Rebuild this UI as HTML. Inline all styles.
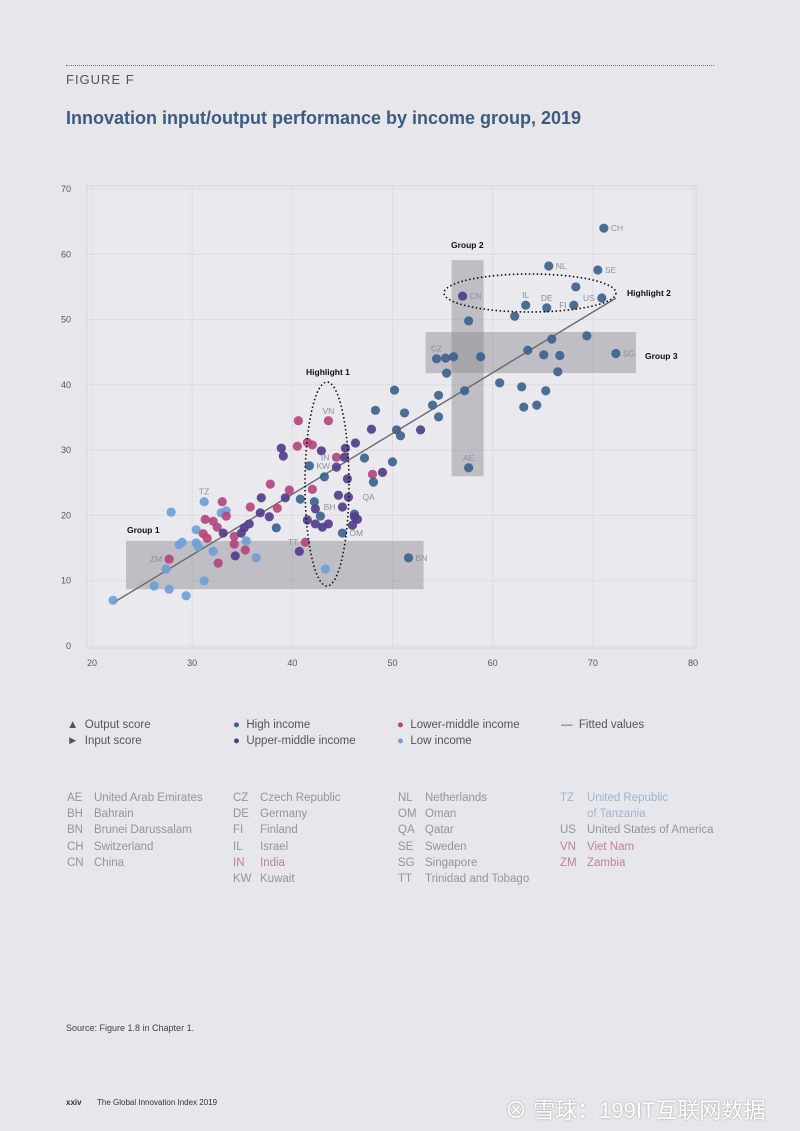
<!DOCTYPE html>
<html><head><meta charset="utf-8"><style>
body{margin:0;background:#e7e7eb;font-family:"Liberation Sans",sans-serif;}
#page{position:relative;width:800px;height:1131px;overflow:hidden;background:#e7e7eb;}
.t{position:absolute;white-space:nowrap;}
.leg{font-size:11.5px;color:#555;}
.cl{font-size:11.5px;color:#9095a0;line-height:16.2px;}
.cl span.c{display:inline-block;width:27px;}
</style></head><body>
<div id="page">
<div class="t" style="left:66px;top:65px;width:648px;border-top:1.5px dotted #777;"></div>
<div class="t" style="left:66px;top:72px;font-size:13px;letter-spacing:1px;color:#555;">FIGURE F</div>
<div class="t" style="left:66px;top:108px;font-size:18px;font-weight:bold;color:#3d5a80;">Innovation input/output performance by income group, 2019</div>

<svg id="chart" width="800" height="680" style="position:absolute;left:0;top:0;" font-family="Liberation Sans, sans-serif"></svg>

<div class="t leg" style="left:67px;top:719px;">▲&nbsp; Output score</div>
<div class="t leg" style="left:67px;top:735px;">►&nbsp; Input score</div>
<div class="t leg" style="left:233px;top:719px;"><span style="color:#3e628c">●</span>&nbsp; High income</div>
<div class="t leg" style="left:233px;top:735px;"><span style="color:#533d8c">●</span>&nbsp; Upper-middle income</div>
<div class="t leg" style="left:397px;top:719px;"><span style="color:#b5457d">●</span>&nbsp; Lower-middle income</div>
<div class="t leg" style="left:397px;top:735px;"><span style="color:#6fa0d6">●</span>&nbsp; Low income</div>
<div class="t leg" style="left:561px;top:719px;">—&nbsp; Fitted values</div>

<div class="t cl" style="left:67px;top:790px;">
<div><span class="c">AE</span>United Arab Emirates</div><div><span class="c">BH</span>Bahrain</div><div><span class="c">BN</span>Brunei Darussalam</div><div><span class="c">CH</span>Switzerland</div><div><span class="c">CN</span>China</div></div>
<div class="t cl" style="left:233px;top:790px;">
<div><span class="c">CZ</span>Czech Republic</div><div><span class="c">DE</span>Germany</div><div><span class="c">FI</span>Finland</div><div><span class="c">IL</span>Israel</div><div style="color:#c07fa0"><span class="c">IN</span>India</div><div><span class="c">KW</span>Kuwait</div></div>
<div class="t cl" style="left:398px;top:790px;">
<div><span class="c">NL</span>Netherlands</div><div><span class="c">OM</span>Oman</div><div><span class="c">QA</span>Qatar</div><div><span class="c">SE</span>Sweden</div><div><span class="c">SG</span>Singapore</div><div><span class="c">TT</span>Trinidad and Tobago</div></div>
<div class="t cl" style="left:560px;top:790px;">
<div style="color:#a0b4d0"><span class="c">TZ</span>United Republic</div><div style="color:#a0b4d0"><span class="c"></span>of Tanzania</div><div><span class="c">US</span>United States of America</div><div style="color:#c07fa0"><span class="c">VN</span>Viet Nam</div><div style="color:#c07fa0"><span class="c">ZM</span>Zambia</div></div>

<div class="t" style="left:66px;top:1023px;font-size:9px;color:#444;">Source: Figure 1.8 in Chapter 1.</div>
<div class="t" style="left:66px;top:1098px;font-size:8px;font-weight:bold;color:#333;">xxiv</div>
<div class="t" style="left:97px;top:1098px;font-size:8px;color:#333;">The Global Innovation Index 2019</div>
<div class="t" style="left:505px;top:1093px;font-size:22px;color:#fff;font-family:'Liberation Sans','Noto Sans CJK SC',sans-serif;text-shadow:0 0 2px #999;">⊗ 雪球：199IT互联网数据</div>
</div>
<script>
const xTicks=[20,30,40,50,60,70,80];
const yTicks=[0,10,20,30,40,50,60,70];
const highX=[71.1,65.6,70.5,68.3,70.9,63.3,65.4,68.1,62.2,57.6,69.4,65.9,63.5,65.1,66.7,72.3,58.8,54.4,55.3,56.1,55.4,66.5,60.7,62.9,65.3,57.2,63.1,64.4,57.6,50.2,48.3,51.2,54.6,54.0,54.6,50.4,50.8,50.0,47.2,48.1,41.7,43.2,40.8,42.2,42.8,38.4,45.0,51.6,46.2];
const highY=[64.0,58.2,57.6,55.0,53.3,52.2,51.8,52.2,50.5,49.8,47.5,47.0,45.3,44.6,44.5,44.8,44.3,44.0,44.1,44.3,41.8,42.0,40.3,39.7,39.1,39.1,36.6,36.9,27.3,39.2,36.1,35.7,38.4,36.9,35.1,33.1,32.2,28.2,28.8,25.1,27.6,25.9,22.5,22.1,19.9,18.1,17.3,13.5,20.2];
const upperX=[57.0,38.9,39.1,42.9,45.3,46.3,45.2,44.4,45.5,47.9,49.0,52.8,44.6,45.6,45.0,46.2,46.5,46.0,41.5,42.3,42.3,43.0,43.6,40.7,36.9,36.8,37.7,39.3,35.7,35.2,34.9,33.1,34.3];
const upperY=[53.6,30.3,29.1,29.9,30.3,31.1,28.9,27.4,25.6,33.2,26.6,33.1,23.1,22.8,21.3,19.8,19.4,18.5,19.3,21.0,18.7,18.2,18.7,14.5,22.7,20.4,19.8,22.7,18.7,18.1,17.3,17.3,13.8];
const lowerX=[40.6,43.6,40.5,41.5,42.0,44.4,48.0,37.8,39.7,42.0,38.5,35.8,33.0,31.3,32.1,32.5,33.4,31.1,31.5,34.2,34.2,35.3,32.6,27.7,41.3];
const lowerY=[34.5,34.5,30.6,31.2,30.8,28.9,26.3,24.8,23.9,24.0,21.1,21.3,22.1,19.4,19.1,18.2,19.9,17.2,16.5,16.8,15.6,14.7,12.7,13.3,15.9];
const lowX=[31.2,27.9,32.9,33.4,30.4,29.0,28.7,30.6,30.4,32.1,35.4,36.4,27.4,31.2,26.2,27.7,29.4,22.1,43.3];
const lowY=[22.1,20.5,20.4,20.7,17.8,15.9,15.5,15.2,15.8,14.5,16.1,13.5,11.8,10.0,9.2,8.7,7.7,7.0,11.8];
const labelCodes=["CH","NL","SE","US","IL","DE","FI","SG","CZ","AE","CN","VN","IN","KW","QA","BH","OM","TT","BN","TZ","ZM"];
const labelX=[71.1,65.6,70.5,70.9,63.3,65.4,68.1,72.3,54.4,57.6,57.0,43.6,44.4,41.7,46.3,45.0,45.0,41.3,51.6,31.2,27.7];
const labelY=[64.0,58.2,57.6,53.3,52.2,51.8,52.2,44.8,44.0,27.3,53.6,34.5,28.9,27.6,22.8,21.3,17.3,15.9,13.5,22.1,13.3];
const labelPos=["r","r","r","l","a","a","l","r","a","a","r","a","l","r","r","l","r","l","r","a","l"];
const fitSlope=0.93, fitIntercept=-13.95, fitFrom=22.1, fitTo=72.3;

const svg=document.getElementById('chart');
const NS='http://www.w3.org/2000/svg';
const X0=92,X1=693,Y0=646,Y1=189;
const sx=v=>X0+(v-20)*(X1-X0)/60;
const sy=v=>Y0-v*(Y0-Y1)/70;
function mk(tag,attrs,parent){const e=document.createElementNS(NS,tag);for(const k in attrs)e.setAttribute(k,attrs[k]);(parent||svg).appendChild(e);return e;}

let fr=mk('rect',{x:87,y:186,width:609,height:462,fill:'#e9e9ee',stroke:'#d6d6dc','stroke-width':1});


xTicks.forEach(t=>{
 let l=mk('line',{x1:sx(t),x2:sx(t),y1:186,y2:648,stroke:'#cfd0d6','stroke-dasharray':'1,1'});
 
 
 let tx=mk('text',{x:sx(t),y:666,'font-size':9,fill:'#555','text-anchor':'middle'});tx.textContent=t;
 
 
});
yTicks.forEach(t=>{
 let l=mk('line',{x1:87,x2:696,y1:sy(t),y2:sy(t),stroke:'#cfd0d6','stroke-dasharray':'1,1'});
 
 
 let tx=mk('text',{x:71,y:sy(t)+3,'font-size':9,fill:'#555','text-anchor':'end'});tx.textContent=t;
 
 
});
function box(name,xa,xb,ya,yb){let r=mk('rect',{x:sx(xa),y:sy(yb),width:sx(xb)-sx(xa),height:sy(ya)-sy(yb),fill:'#8a8a90','fill-opacity':0.45});
 
 }
box('group-1-band',23.4,53.1,8.7,16.1);
box('group-2-band',55.9,59.1,26.0,59.1);
box('group-3-band',53.3,74.3,41.8,48.1);
let fl=mk('line',{x1:sx(fitFrom),y1:sy(fitSlope*fitFrom+fitIntercept),x2:sx(fitTo),y2:sy(fitSlope*fitTo+fitIntercept),stroke:'#6a6a6e','stroke-width':1.4});


function series(xs,ys,col,name){xs.forEach((x,i)=>{let c=mk('circle',{cx:sx(x),cy:sy(ys[i]),r:4.6,fill:col,'fill-opacity':0.92});
 
 });}
series(lowX,lowY,'#6fa0d6','point-low-income');
series(lowerX,lowerY,'#b5457d','point-lower-middle-income');
series(highX,highY,'#3e628c','point-high-income');
series(upperX,upperY,'#533d8c','point-upper-middle-income');
labelCodes.forEach((c,i)=>{let x=sx(labelX[i]),y=sy(labelY[i]),p=labelPos[i];
 let a={x:x+7,y:y+3,'text-anchor':'start'};
 if(p==='l')a={x:x-7,y:y+3,'text-anchor':'end'};
 if(p==='a')a={x:x,y:y-7,'text-anchor':'middle'};
 a['font-size']=8.5;a.fill='#8d929c';
 let t=mk('text',a);t.textContent=c;
 
 });
let e1=mk('ellipse',{cx:327,cy:484,rx:22,ry:102,fill:'none',stroke:'#111','stroke-width':1.6,'stroke-dasharray':'1.5,2.5'});


let e2=mk('ellipse',{cx:530,cy:293,rx:86,ry:19,fill:'none',stroke:'#111','stroke-width':1.6,'stroke-dasharray':'1.5,2.5'});


[['Group 1',127,533,'group-1-label'],['Group 2',451,248,'group-2-label'],['Group 3',645,359,'group-3-label'],['Highlight 1',306,375,'highlight-1-label'],['Highlight 2',627,296,'highlight-2-label']].forEach(d=>{
 let t=mk('text',{x:d[1],y:d[2],'font-size':8.5,'font-weight':'bold',fill:'#111'});t.textContent=d[0];
 
 });
</script>
</body></html>
